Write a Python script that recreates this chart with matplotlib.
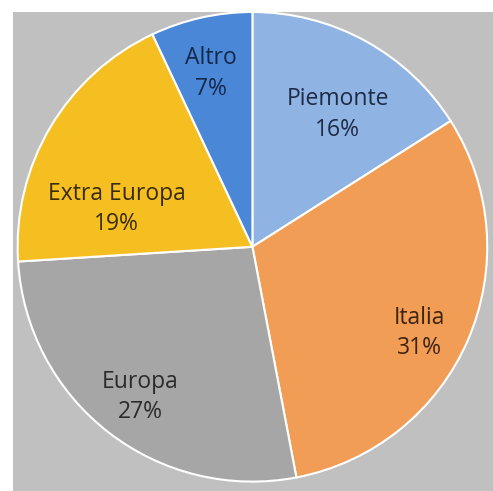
import numpy as np
import matplotlib.pyplot as plt
from matplotlib.patches import Rectangle

labels = ["Piemonte", "Italia", "Europa", "Extra Europa", "Altro"]
values = [16, 31, 27, 19, 7]
colors = ["#8fb4e3", "#f29d55", "#a6a6a6", "#f5bf22", "#4a87d6"]
text_colors = ["#1e2b45", "#3d2410", "#2b2b2b", "#3a2c08", "#15284a"]
# where Excel put each data label (fraction of radius, angle shift in degrees)
label_r = [0.67, 0.80, 0.80, 0.60, 0.76]
label_shift = [-4, -4, 1, 15, 1]

plt.rcParams['font.family'] = ['Open Sans', 'DejaVu Sans']

fig = plt.figure(figsize=(4.93, 4.91), dpi=100)
fig.patch.set_facecolor("white")
fig.patches.append(Rectangle((13 / 493, 0), 480 / 493, 479 / 491,
                             transform=fig.transFigure, facecolor="#c0c0c0",
                             edgecolor="none", zorder=-1))
ax = fig.add_axes([13 / 493, 0, 480 / 493, 479 / 491])
ax.patch.set_alpha(0)

wedges, _ = ax.pie(values, colors=colors, startangle=90, counterclock=False,
                   wedgeprops=dict(edgecolor="white", linewidth=1.5))

for w, l, v, c, r, s in zip(wedges, labels, values, text_colors, label_r, label_shift):
    a = np.deg2rad((w.theta1 + w.theta2) / 2 + s)
    ax.text(r * np.cos(a), r * np.sin(a), f"{l}\n{v}%", color=c, fontsize=16.5,
            ha="center", va="center", linespacing=1.35)

ax.set_aspect("equal")
ax.set_xlim(-1.015, 1.02)
ax.set_ylim(-1.04, 1.0)
ax.axis("off")

fig.savefig("out.png", dpi=100, facecolor=fig.get_facecolor())
